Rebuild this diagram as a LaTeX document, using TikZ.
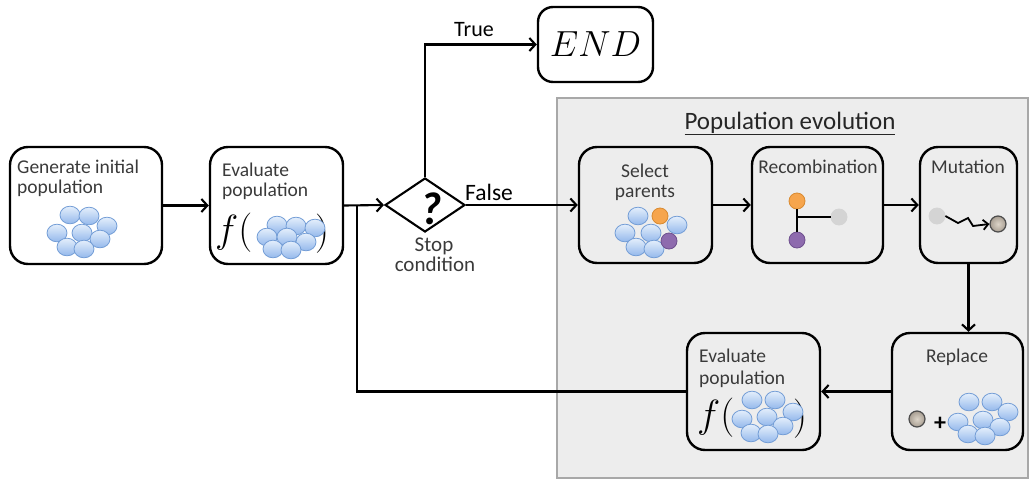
\documentclass[tikz,border=0pt]{standalone}
\usepackage{graphicx}
\usepackage{fontspec}
\setmainfont{Carlito}
\usetikzlibrary{arrows.meta,shapes.geometric}
\definecolor{panelfill}{HTML}{EDEDED}
\definecolor{paneledge}{HTML}{A8A8A8}
\definecolor{labelgray}{HTML}{3A3A3A}
\definecolor{blueedge}{HTML}{739DD6}
\definecolor{bluetop}{HTML}{E4EEFC}
\definecolor{bluebot}{HTML}{94B9EB}
\definecolor{orangefill}{HTML}{F6A54D}
\definecolor{orangeedge}{HTML}{D98A30}
\definecolor{purplefill}{HTML}{8E6BAE}
\definecolor{purpleedge}{HTML}{6E4F8E}
\definecolor{greyfill}{HTML}{D4D4D4}
\definecolor{stonein}{HTML}{DCD4C8}
\definecolor{stoneout}{HTML}{A89E92}
\newcommand\popdot[2]{\path[bluedot] (#1,#2) circle [x radius=10, y radius=8.8];}
\newcommand\bigmath[2]{{\fontsize{24}{24}\selectfont\scalebox{#1}{$#2$}}}
\begin{document}
\begin{tikzpicture}[x=1pt,y=-1pt,
  box/.style={draw=black, line width=2.4pt, rounded corners=18pt, inner sep=0pt},
  flow/.style={line width=2.1pt, -{Straight Barb[length=6pt,width=13pt]}},
  wire/.style={line width=2.1pt},
  txt/.style={font=\fontsize{19.5}{21}\selectfont, text=labelgray, inner sep=0pt},
  bluedot/.style={draw=blueedge, line width=0.8pt, top color=bluetop, bottom color=bluebot},
  dotnode/.style={circle, inner sep=0pt, minimum size=16pt, line width=0.8pt},
  fofx/.style={inner sep=0pt}
]
\useasboundingbox (0,0) rectangle (1029,480);

% panel for the evolution loop
\path[fill=panelfill, draw=paneledge, line width=1.5pt] (557,98) rectangle (1028,478);
\node[txt, font=\fontsize{25}{28}\selectfont, text=black!85, anchor=base] (ptitle) at (790,129) {\underline{Population evolution}};

% main boxes
\node[box, minimum width=152pt, minimum height=117pt] (gen) at (86,205.5) {};
\node[box, minimum width=133pt, minimum height=117pt] (ev1) at (276.5,205.5) {};
\node[box, rounded corners=15pt, minimum width=115pt, minimum height=75pt] (endb) at (595.5,44.5) {\bigmath{1.46}{END}};
\node[draw, diamond, line width=2.1pt, minimum width=80pt, minimum height=54pt, inner sep=0pt] (dia) at (425,205) {};
\node[font=\fontsize{46}{46}\selectfont\bfseries\itshape, inner sep=0pt] (qm) at (431,209) {?};
\node[box, minimum width=133pt, minimum height=116pt] (sel) at (645.5,205) {};
\node[box, minimum width=131pt, minimum height=116pt] (rec) at (817.5,205) {};
\node[box, minimum width=97pt, minimum height=116pt] (mut) at (968.5,205) {};
\node[box, minimum width=131pt, minimum height=117pt] (rep) at (957.5,391.5) {};
\node[box, minimum width=133pt, minimum height=117pt] (ev2) at (753.5,391.5) {};

% labels
\node[txt, anchor=base west] (tgena) at (17,173) {Generate initial};
\node[txt, anchor=base west] (tgenb) at (17,193) {population};
\node[txt, anchor=base west] (teva) at (222,176) {Evaluate};
\node[txt, anchor=base west] (tevb) at (222,196) {population};
\node[txt, anchor=base] (tsela) at (645,177) {Select};
\node[txt, anchor=base] (tselb) at (645,197) {parents};
\node[txt, anchor=base] (trec) at (818,173) {Recombination};
\node[txt, anchor=base] (tmut) at (968,173) {Mutation};
\node[txt, anchor=base] (trep) at (957,362) {Replace};
\node[txt, anchor=base west] (tevc) at (699,362) {Evaluate};
\node[txt, anchor=base west] (tevd) at (699,384) {population};
\node[txt, text=black, font=\fontsize{22}{24}\selectfont, anchor=base] (ttrue) at (474,36) {True};
\node[txt, text=black, font=\fontsize{23.5}{25}\selectfont, anchor=base west] (tfalse) at (465,200) {False};
\node[txt, font=\fontsize{21}{22}\selectfont, anchor=base] (tstopa) at (434,251) {Stop};
\node[txt, font=\fontsize{21}{22}\selectfont, anchor=base] (tstopb) at (435,271) {condition};

% connectors
\coordinate (jn) at (357,205);
\draw[flow] (gen.east) -- (ev1.west);
\draw[flow] (ev1.east) -- (dia.west);
\draw[flow] (dia.north) |- (endb.west);
\draw[flow] (dia.east) -- (sel.west);
\draw[flow] (sel.east) -- (rec.west);
\draw[flow] (rec.east) -- (mut.west);
\draw[flow] (mut.south) -- (mut.south |- rep.north);
\draw[flow] (rep.west) -- (ev2.east);
\draw[wire] (ev2.west) -| (jn);

% fitness function, top
\node[fofx, anchor=west] (f1) at (215,233) {\bigmath{1.58}{f(}};
\node[fofx] (p1) at (322,234) {\bigmath{1.58}{)}};
\popdot{277}{225}\popdot{296}{226}\popdot{315}{228}
\popdot{267}{237}\popdot{287}{237}\popdot{306}{242}
\popdot{273}{249}\popdot{291}{250}

% initial population
\popdot{70}{215}\popdot{89}{216}\popdot{107}{226}
\popdot{57}{233}\popdot{82}{233}\popdot{100}{239}
\popdot{67}{247}\popdot{84}{249}

% parent selection
\popdot{638}{216}\popdot{677}{225}\popdot{625}{233}
\popdot{651}{233}\popdot{636}{247}\popdot{654}{249}
\node[dotnode, draw=orangeedge, fill=orangefill] (so) at (660,216) {};
\node[dotnode, draw=purpleedge, fill=purplefill] (sp) at (669,241) {};

% recombination
\node[dotnode, draw=orangeedge, fill=orangefill] (ro) at (797,201) {};
\node[dotnode, draw=purpleedge, fill=purplefill] (rp) at (797,240) {};
\node[dotnode, draw=greyfill, fill=greyfill] (rg) at (839,217) {};
\draw[wire] (ro.south) -- (rp.north);
\draw[wire] (rg.west) -- (rg.west -| ro.center);

% mutation
\node[dotnode, draw=greyfill, fill=greyfill] (mg) at (937,216) {};
\node[dotnode, draw=black!70, inner color=stonein, outer color=stoneout, line width=1.2pt] (ms) at (998,224) {};
\draw[line width=1.8pt, -{Straight Barb[length=5pt,width=10pt]}]
  (mg.east) -- (958,223) -- (968,218) -- (973,226) -- (ms.west);

% replacement
\node[dotnode, draw=black!70, inner color=stonein, outer color=stoneout, line width=1.2pt] (rs) at (917,419) {};
\node[font=\fontsize{24}{24}\selectfont\bfseries, inner sep=0pt] (plus) at (940,424) {+};
\popdot{969}{402}\popdot{992}{402}\popdot{1008}{412}
\popdot{958}{422}\popdot{983}{420}\popdot{1000}{427}
\popdot{968}{434}\popdot{985}{436}

% fitness function, bottom
\node[fofx, anchor=west] (f2) at (697,418) {\bigmath{1.58}{f(}};
\node[fofx] (p2) at (800,419) {\bigmath{1.58}{)}};
\popdot{752}{400}\popdot{775}{400}\popdot{793}{412}
\popdot{742}{419}\popdot{767}{417}\popdot{783}{426}
\popdot{751}{433}\popdot{768}{434}
\end{tikzpicture}
\end{document}
